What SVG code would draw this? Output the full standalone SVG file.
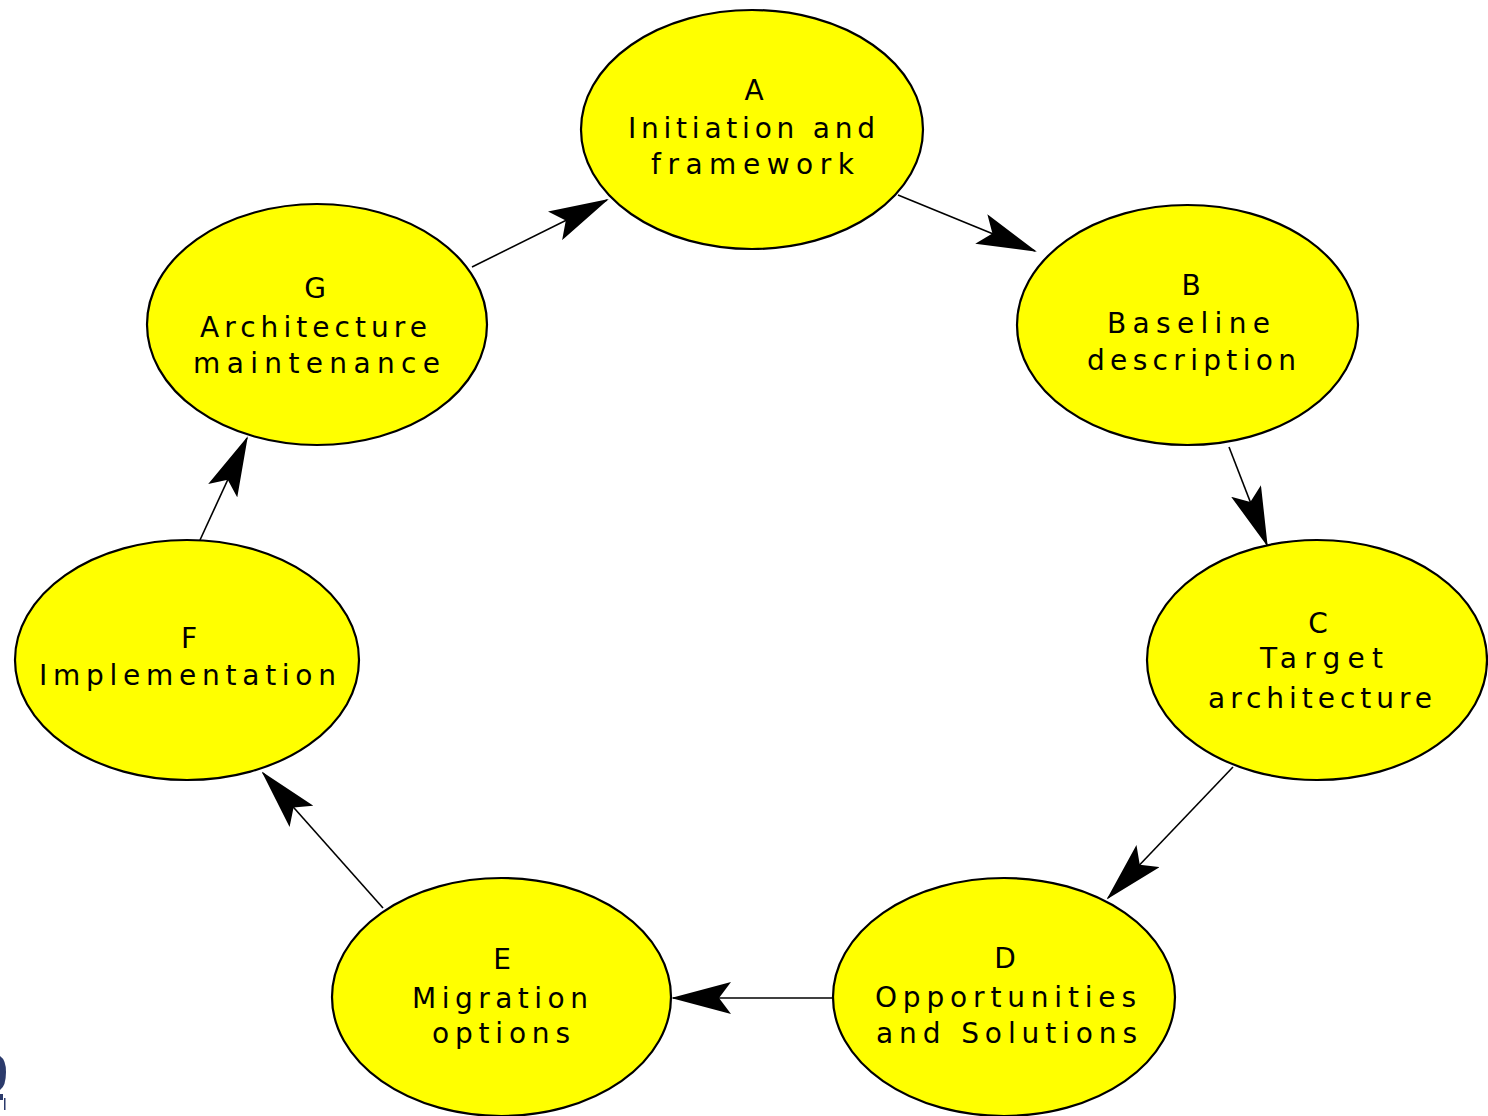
<svg xmlns="http://www.w3.org/2000/svg" width="1488" height="1116" viewBox="0 0 1488 1116">
<style>
.node ellipse{fill:#ffff00;stroke:#000;stroke-width:2.2}
.node text{font-family:"DejaVu Sans","Liberation Sans",Arial,sans-serif;font-size:28px;fill:#000;text-anchor:middle}
.edge{stroke:#000;stroke-width:1.6;fill:none;marker-end:url(#arr)}
</style>
<defs>
<marker id="arr" viewBox="0 0 60 32" refX="58" refY="16" markerWidth="60" markerHeight="32" markerUnits="userSpaceOnUse" orient="auto">
<path d="M60,16 L0,0 L12,16 L0,32 Z" fill="#000"/>
</marker>
</defs>
<rect width="1488" height="1116" fill="#fff"/>
<g id="connectors">
<line class="edge" x1="898" y1="195" x2="1035" y2="251"/>
<line class="edge" x1="1229" y1="447" x2="1267" y2="545"/>
<line class="edge" x1="1233" y1="767" x2="1108" y2="898"/>
<line class="edge" x1="835" y1="998" x2="673" y2="998"/>
<line class="edge" x1="383" y1="908" x2="263" y2="773"/>
<line class="edge" x1="200" y1="540" x2="247" y2="438"/>
<line class="edge" x1="472" y1="267" x2="607" y2="200"/>
</g>
<g id="nodeA" class="node">
<ellipse cx="752" cy="129.5" rx="171" ry="119.5"/>
<text x="754" y="100">A</text>
<text x="751.5" y="138" textLength="247" lengthAdjust="spacing">Initiation and</text>
<text x="752.5" y="174" textLength="203" lengthAdjust="spacing">framework</text>
</g>
<g id="nodeB" class="node">
<ellipse cx="1187.5" cy="325" rx="170.5" ry="120"/>
<text x="1191" y="295">B</text>
<text x="1188.5" y="333" textLength="163" lengthAdjust="spacing">Baseline</text>
<text x="1191.5" y="370" textLength="209" lengthAdjust="spacing">description</text>
</g>
<g id="nodeC" class="node">
<ellipse cx="1317" cy="660" rx="170" ry="120"/>
<text x="1318" y="633">C</text>
<text x="1321.5" y="668" textLength="123" lengthAdjust="spacing">Target</text>
<text x="1320" y="708" textLength="224" lengthAdjust="spacing">architecture</text>
</g>
<g id="nodeD" class="node">
<ellipse cx="1004" cy="997" rx="171" ry="119"/>
<text x="1005" y="968">D</text>
<text x="1005.5" y="1007" textLength="261" lengthAdjust="spacing">Opportunities</text>
<text x="1006.5" y="1043" textLength="261" lengthAdjust="spacing">and Solutions</text>
</g>
<g id="nodeE" class="node">
<ellipse cx="501.5" cy="997" rx="169.5" ry="119"/>
<text x="502" y="969">E</text>
<text x="500" y="1008" textLength="176" lengthAdjust="spacing">Migration</text>
<text x="501" y="1043" textLength="138" lengthAdjust="spacing">options</text>
</g>
<g id="nodeF" class="node">
<ellipse cx="187" cy="660" rx="172" ry="120"/>
<text x="189" y="648">F</text>
<text x="187.5" y="685" textLength="297" lengthAdjust="spacing">Implementation</text>
</g>
<g id="nodeG" class="node">
<ellipse cx="317" cy="324.5" rx="170" ry="120.5"/>
<text x="315" y="298">G</text>
<text x="313.5" y="337" textLength="227" lengthAdjust="spacing">Architecture</text>
<text x="316.5" y="373" textLength="247" lengthAdjust="spacing">maintenance</text>
</g>
<g id="logo-fragment" fill="#2b3a6b">
<path d="M0,1056 Q6,1060 6,1072 Q6,1086 0,1090 Z"/>
<rect x="0" y="1094" width="3" height="6"/>
<rect x="4" y="1098" width="1.5" height="12"/>
</g>
</svg>
